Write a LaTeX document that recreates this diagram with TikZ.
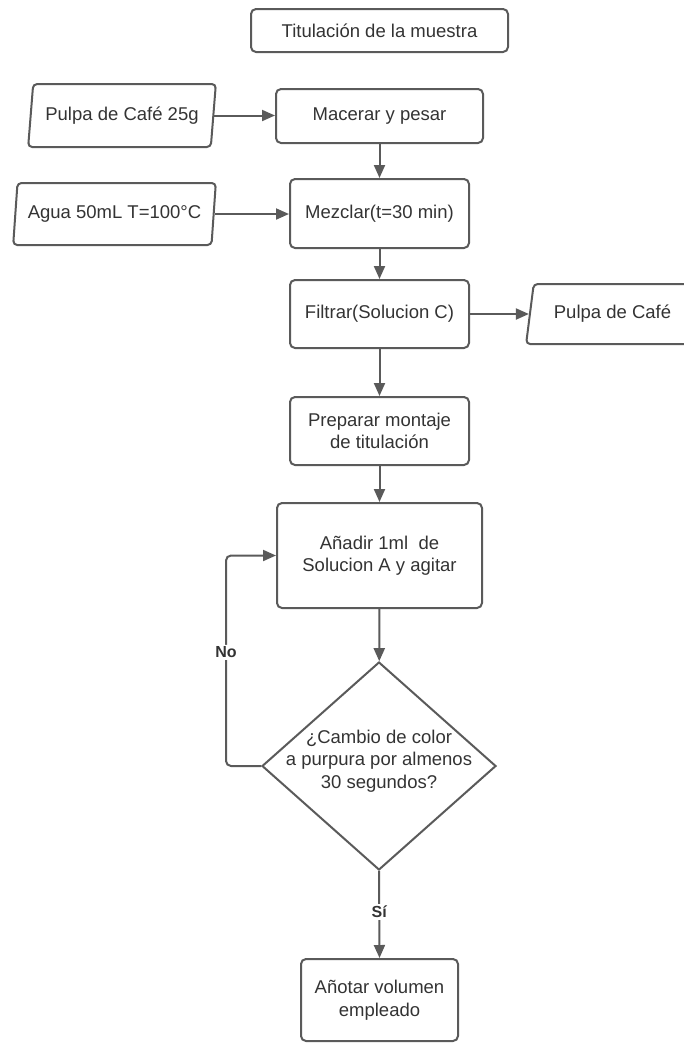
\documentclass[tikz,border=0pt]{standalone}
\usepackage{fontspec}
\setmainfont{Liberation Sans}
\usetikzlibrary{shapes.geometric, arrows.meta}
\definecolor{linegray}{HTML}{5A5A5A}
\definecolor{textgray}{HTML}{333333}

\begin{document}
\begin{tikzpicture}[x=1pt, y=-1pt,
  every node/.style={font=\fontsize{18.5}{22.5}\selectfont, text=textgray},
  stepbox/.style={draw=linegray, line width=2pt, rounded corners=5pt, align=center, inner sep=0pt},
  iobox/.style={trapezium, trapezium stretches=true, draw=linegray, line width=2pt, rounded corners=4pt, inner sep=0pt},
  decision/.style={diamond, draw=linegray, line width=2pt, inner sep=0pt},
  flow/.style={draw=linegray, line width=2pt, -{Triangle[length=13pt, width=11pt]}},
  lbl/.style={font=\fontsize{16}{19}\selectfont\bfseries, fill=white, inner sep=2pt}
]

\useasboundingbox (0, 0) rectangle (684, 1045);

%% Main column

% Title
\node [stepbox, minimum width=257pt, minimum height=43pt] (title) at (379.5, 30.5) {Titulación de la muestra};

% Macerar
\node [stepbox, minimum width=207pt, minimum height=54pt] (macer) at (379.5, 116) {Macerar y pesar};

% Mezclar
\node [stepbox, minimum width=179pt, minimum height=69pt] (mezcl) at (379.5, 213.5) {Mezclar(t=30 min)};

% Filtrar
\node [stepbox, minimum width=179pt, minimum height=68pt] (filtr) at (379.5, 314) {Filtrar(Solucion C)};

% Preparar
\node [stepbox, minimum width=179pt, minimum height=68pt] (prep) at (379.5, 431) {Preparar montaje\\de titulación};

% Anadir
\node [stepbox, minimum width=205pt, minimum height=105pt] (add) at (379.5, 555.5) {Añadir 1ml\ \ de\\Solucion A y agitar};

% Decision
\node [decision, minimum width=234pt, minimum height=208pt] (check) at (379, 766) {};
\node [align=center] (checktext) at (379, 761) {¿Cambio de color\\a purpura por almenos\\30 segundos?};

% Anotar
\node [stepbox, minimum width=157pt, minimum height=82pt] (final) at (379.5, 1000) {Añotar volumen\\empleado};

%% Inputs / outputs

% Pulpa in
\node [iobox, trapezium left angle=76, trapezium right angle=104, minimum width=188pt, minimum height=63pt] (pulpa) at (122, 115.5) {Pulpa de Café 25g};

% Agua
\node [iobox, trapezium left angle=77, trapezium right angle=103, minimum width=203pt, minimum height=62pt] (agua) at (114.5, 214) {Agua 50mL T=100°C};

% Pulpa out
\node [iobox, trapezium left angle=72, trapezium right angle=108, minimum width=173pt, minimum height=60pt] (pulpaout) at (612.5, 314) {Pulpa de Café};

%% Connectors
\draw [flow] (pulpa.east) -- (pulpa.east -| macer.west);
\draw [flow] (macer) -- (mezcl);
\draw [flow] (agua.east) -- (agua.east -| mezcl.west);
\draw [flow] (mezcl) -- (filtr);
\draw [flow] (filtr.east) -- (filtr.east -| pulpaout.west);
\draw [flow] (filtr) -- (prep);
\draw [flow] (prep) -- (add);
\draw [flow] (add) -- (check);

% loop back
\draw [flow, rounded corners=5pt] (check.west) -- ++(-35, 0) |- node [lbl, pos=0.27] { No } (add.west);

% yes
\draw [flow] (check.south) to node [lbl, pos=0.47] { Sí } (final.north);

\end{tikzpicture}
\end{document}
